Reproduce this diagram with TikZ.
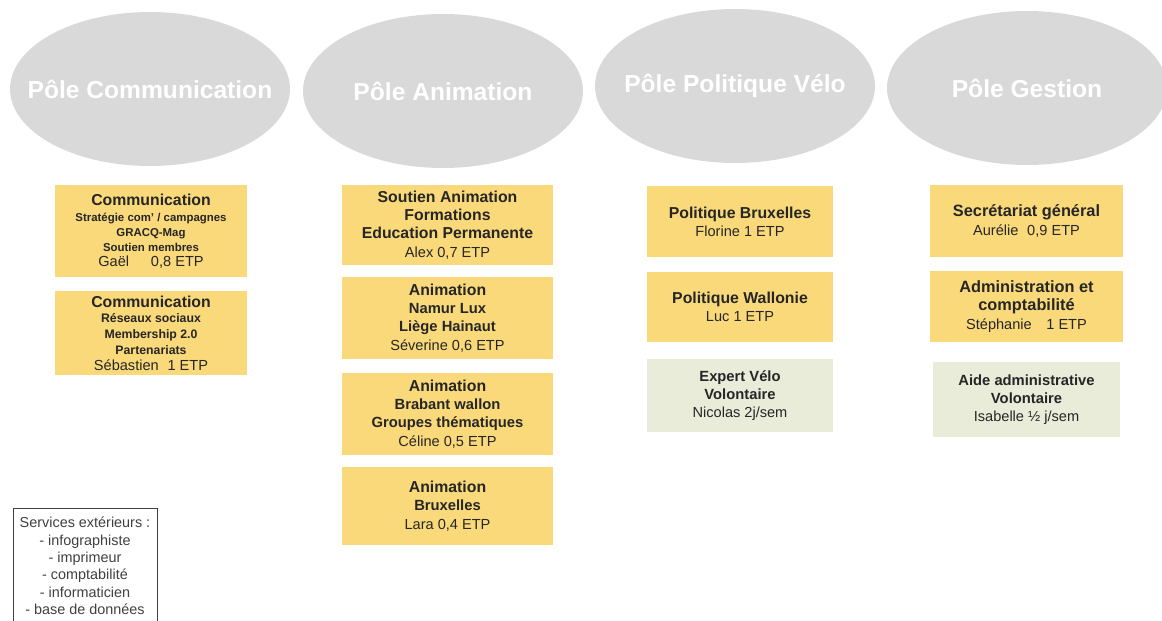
\documentclass[tikz,border=0pt]{standalone}
\usepackage{fontspec}
\setmainfont{Liberation Sans}
\usetikzlibrary{shapes.geometric}

\definecolor{gris}{HTML}{D9D9D9}
\definecolor{jaune}{HTML}{FAD97A}
\definecolor{vert}{HTML}{E8ECD9}

\newcommand{\tg}[1]{{\fontsize{9}{10}\selectfont\bfseries #1}}
\newcommand{\sg}[1]{{\fontsize{8.4}{10}\selectfont\bfseries #1}}
\newcommand{\pg}[1]{{\fontsize{6.5}{8}\selectfont\bfseries #1}}

\begin{document}
\begin{tikzpicture}[x=0.02cm, y=-0.02cm,
  pole/.style={ellipse, fill=gris, minimum width=5.6cm, minimum height=3.08cm, inner sep=0pt},
  poletitre/.style={text=white, font=\fontsize{14}{16}\selectfont\bfseries},
  poste/.style={rectangle, fill=jaune, align=center, inner sep=2pt, text=black!85,
    font=\fontsize{8.3}{10.4}\selectfont},
  benevole/.style={poste, fill=vert},
  services/.style={draw=black!75, fill=white, align=center, inner xsep=2pt, inner ysep=5pt,
    minimum width=2.88cm, text=black!75, font=\fontsize{8.2}{9.9}\selectfont}]

\useasboundingbox (0,0) rectangle (1162,621);

% les poles
\node[pole] (pcom) at (150,89) {};
\node[poletitre] (tcom) at (pcom) {Pôle Communication};
\node[pole] (panim) at (443,91) {};
\node[poletitre] (tanim) at (panim) {Pôle Animation};
\node[pole] (ppol) at (735,86) {};
\node[poletitre] (tpol) at (ppol) {Pôle Politique Vélo};
\node[pole] (pgest) at (1027,88) {};
\node[poletitre] (tgest) at (pgest) {Pôle Gestion};

% communication
\node[poste, minimum width=3.84cm, minimum height=1.84cm, font=\fontsize{8.3}{8.4}\selectfont]
  (com1) at (151,231) {\tg{Communication}\\[1pt] \pg{Stratégie com' / campagnes}\\ \pg{GRACQ-Mag}\\
  \pg{Soutien membres}\\ Gaël\hspace{1.5em}0,8 ETP};
\node[poste, minimum width=3.84cm, minimum height=1.68cm, font=\fontsize{8.3}{9}\selectfont]
  (com2) at (151,333) {\tg{Communication}\\ {\fontsize{7}{8}\selectfont\bfseries Réseaux sociaux}\\
  {\fontsize{7}{8}\selectfont\bfseries Membership 2.0}\\ {\fontsize{7}{8}\selectfont\bfseries Partenariats}\\
  Sébastien\hspace{0.6em}1 ETP};

% animation
\node[poste, minimum width=4.22cm, minimum height=1.6cm] (anim1) at (447.5,225)
  {\tg{Soutien Animation}\\ \tg{Formations}\\ \tg{Education Permanente}\\ Alex 0,7 ETP};
\node[poste, minimum width=4.22cm, minimum height=1.64cm] (anim2) at (447.5,318)
  {\tg{Animation}\\ \sg{Namur Lux}\\ \sg{Liège Hainaut}\\ Séverine 0,6 ETP};
\node[poste, minimum width=4.22cm, minimum height=1.64cm] (anim3) at (447.5,414)
  {\tg{Animation}\\ \sg{Brabant wallon}\\ \sg{Groupes thématiques}\\ Céline 0,5 ETP};
\node[poste, minimum width=4.22cm, minimum height=1.56cm] (anim4) at (447.5,506)
  {\tg{Animation}\\ \sg{Bruxelles}\\ Lara 0,4 ETP};

% politique velo
\node[poste, minimum width=3.72cm, minimum height=1.42cm] (pol1) at (740,221.5)
  {\tg{Politique Bruxelles}\\ Florine 1 ETP};
\node[poste, minimum width=3.72cm, minimum height=1.4cm] (pol2) at (740,307)
  {\tg{Politique Wallonie}\\ Luc 1 ETP};
\node[benevole, minimum width=3.72cm, minimum height=1.46cm] (pol3) at (740,395.5)
  {\sg{Expert Vélo}\\ \sg{Volontaire}\\ Nicolas 2j/sem};

% gestion
\node[poste, minimum width=3.86cm, minimum height=1.44cm] (gest1) at (1026.5,221)
  {{\fontsize{9.3}{10}\selectfont\bfseries Secrétariat général}\\ Aurélie\hspace{0.6em}0,9 ETP};
\node[poste, minimum width=3.86cm, minimum height=1.42cm] (gest2) at (1026.5,306.5)
  {{\fontsize{9.3}{10}\selectfont\bfseries Administration et}\\
  {\fontsize{9.3}{10}\selectfont\bfseries comptabilité}\\ Stéphanie\hspace{1em}1 ETP};
\node[benevole, minimum width=3.74cm, minimum height=1.5cm] (gest3) at (1026.5,399.5)
  {\sg{Aide administrative}\\ \sg{Volontaire}\\ Isabelle ½ j/sem};

% services exterieurs
\node[services, anchor=north] (serv) at (85,508) {Services extérieurs :\\ - infographiste\\
  - imprimeur\\ - comptabilité\\ - informaticien\\ - base de données};

\end{tikzpicture}
\end{document}
